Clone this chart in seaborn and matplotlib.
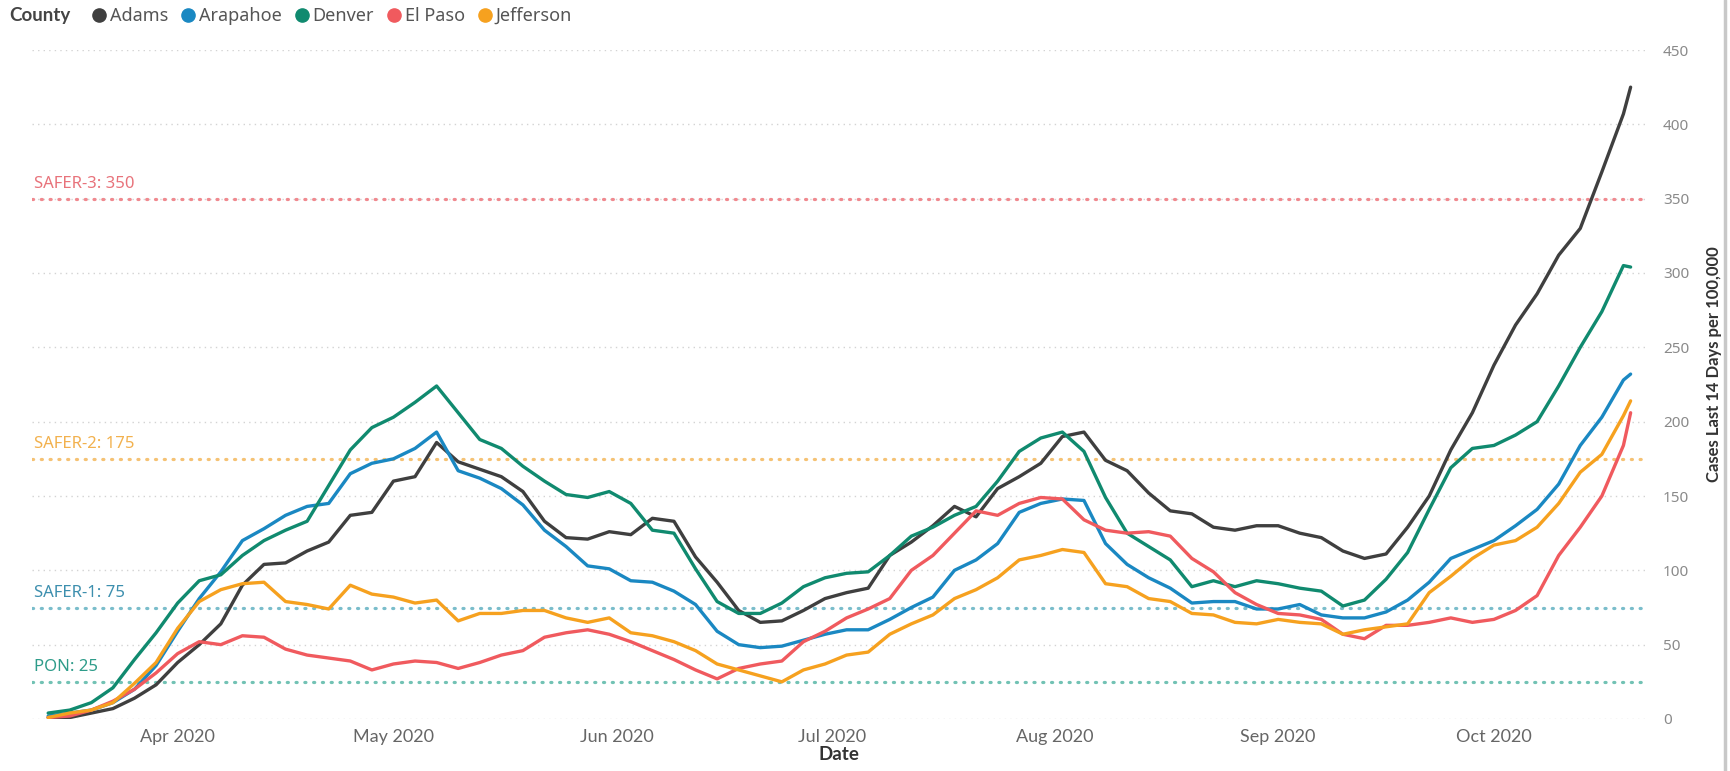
import pandas as pd
import matplotlib.pyplot as plt
from matplotlib.lines import Line2D
import seaborn as sns

# Datas: a cada 3 dias + último dia
dates = list(pd.date_range("2020-03-14", periods=74, freq="3D")) + [pd.Timestamp("2020-10-20")]

counties = ["Adams", "Arapahoe", "Denver", "El Paso", "Jefferson"]

adams = [1, 1, 4, 7, 14, 23, 38, 50, 64, 90, 104, 105, 113, 119, 137, 139, 160, 163, 186, 173,
         168, 163, 153, 133, 122, 121, 126, 124, 135, 133, 109, 92, 73, 65, 66, 73, 81, 85, 88, 110,
         119, 130, 143, 136, 155, 163, 172, 190, 193, 174, 167, 152, 140, 138, 129, 127, 130, 130, 125, 122,
         113, 108, 111, 129, 150, 181, 206, 238, 265, 286, 312, 330, 368, 407, 425]
arapahoe = [2, 4, 6, 11, 20, 36, 59, 81, 99, 120, 128, 137, 143, 145, 165, 172, 175, 182, 193, 167,
            162, 155, 144, 127, 116, 103, 101, 93, 92, 86, 77, 59, 50, 48, 49, 53, 57, 60, 60, 67,
            75, 82, 100, 107, 118, 139, 145, 148, 147, 118, 104, 95, 88, 78, 79, 79, 74, 74, 77, 70,
            68, 68, 72, 80, 92, 108, 114, 120, 130, 141, 158, 184, 203, 228, 232]
denver = [4, 6, 11, 21, 40, 58, 78, 93, 97, 110, 120, 127, 133, 157, 181, 196, 203, 213, 224, 206,
          188, 182, 170, 160, 151, 149, 153, 145, 127, 125, 101, 79, 71, 71, 78, 89, 95, 98, 99, 110,
          123, 129, 137, 143, 160, 180, 189, 193, 180, 149, 125, 116, 107, 89, 93, 89, 93, 91, 88, 86,
          76, 80, 94, 112, 141, 169, 182, 184, 191, 200, 224, 250, 274, 305, 304]
el_paso = [1, 2, 6, 12, 20, 31, 44, 52, 50, 56, 55, 47, 43, 41, 39, 33, 37, 39, 38, 34,
           38, 43, 46, 55, 58, 60, 57, 52, 46, 40, 33, 27, 34, 37, 39, 52, 59, 68, 74, 81,
           100, 110, 125, 140, 137, 145, 149, 148, 134, 127, 125, 126, 123, 108, 99, 85, 77, 71, 70, 67,
           57, 54, 63, 63, 65, 68, 65, 67, 73, 83, 110, 129, 150, 184, 206]
jefferson = [1, 4, 6, 11, 24, 38, 61, 79, 87, 91, 92, 79, 77, 74, 90, 84, 82, 78, 80, 66,
             71, 71, 73, 73, 68, 65, 68, 58, 56, 52, 46, 37, 33, 29, 25, 33, 37, 43, 45, 57,
             64, 70, 81, 87, 95, 107, 110, 114, 112, 91, 89, 81, 79, 71, 70, 65, 64, 67, 65, 64,
             57, 60, 62, 64, 85, 96, 108, 117, 120, 129, 145, 166, 178, 204, 214]

colors = {"Adams": "#3F3F3F", "Arapahoe": "#1A88C2", "Denver": "#108A6F",
          "El Paso": "#F05A5E", "Jefferson": "#F6A11F"}

thresholds = [350, 175, 75, 25]
threshold_labels = ["SAFER-3: 350", "SAFER-2: 175", "SAFER-1: 75", "PON: 25"]
threshold_line_colors = ["#F0898F", "#F5C274", "#7ABDCB", "#72C2B4"]
threshold_text_colors = ["#E8737B", "#F2B14E", "#3D8FAE", "#2E9C8A"]

month_ticks = pd.to_datetime(["2020-04-01", "2020-05-01", "2020-06-01", "2020-07-01",
                              "2020-08-01", "2020-09-01", "2020-10-01"])
month_labels = ["Apr 2020", "May 2020", "Jun 2020", "Jul 2020", "Aug 2020", "Sep 2020", "Oct 2020"]
y_ticks = [0, 50, 100, 150, 200, 250, 300, 350, 400, 450]

series = [adams, arapahoe, denver, el_paso, jefferson]
df = pd.concat([pd.DataFrame({"Date": dates, "County": c, "Cases": v})
                for c, v in zip(counties, series)], ignore_index=True)

sns.set_style("white")
plt.rcParams['font.family'] = ['Noto Sans', 'DejaVu Sans']
lato = ['Lato', 'DejaVu Sans']

W, H = 1731, 771
fig = plt.figure(figsize=(W / 100, H / 100), dpi=100)
ax = fig.add_axes([32 / W, (H - 719) / H, 1613 / W, 669 / H])

# grade pontilhada
for y in y_ticks:
    ax.axhline(y, color='#D3D3D3', lw=1.0, ls=(0, (1, 3)), zorder=0)

# linhas de referência
for v, lc, tc, lab in zip(thresholds, threshold_line_colors, threshold_text_colors, threshold_labels):
    ax.axhline(v, color=lc, lw=2.3, ls=(0, (0.35, 2.4)), dash_capstyle='round', zorder=1)
    ax.annotate(lab, xy=(0.001, v), xycoords=('axes fraction', 'data'), xytext=(0, 7.5),
                textcoords='offset points', va='baseline', ha='left', color=tc, fontsize=12)

sns.lineplot(data=df, x="Date", y="Cases", hue="County", palette=colors, linewidth=2.4,
             errorbar=None, legend=False, ax=ax, zorder=3)

ax.set_ylim(0, 450)
ax.set_xlim(pd.Timestamp("2020-03-11 18:00"), pd.Timestamp("2020-10-22"))
ax.yaxis.tick_right()
ax.set_yticks(y_ticks)
ax.tick_params(axis='y', length=0, pad=13, labelsize=11, labelcolor='#8A8A8A')
ax.set_xticks(month_ticks, labels=month_labels, fontfamily=lato, fontsize=13)
ax.tick_params(axis='x', length=0, pad=7, labelcolor='#666666')
for s in ax.spines.values():
    s.set_visible(False)

ax.set_xlabel("Date", fontsize=13.5, fontweight='bold', color='#333333', fontfamily=lato, labelpad=1)
ax.yaxis.set_label_position('right')
ax.set_ylabel("Cases Last 14 Days per 100,000", fontsize=12, fontweight='bold',
              color='#333333', fontfamily=lato, va='center', ha='center')
ax.yaxis.set_label_coords(1.0428, 0.53)

# legenda no topo
fig.text(9 / W, 1 - 16 / H, "County", fontsize=13.5, fontweight='bold', color='#444444',
         va='center', fontfamily=lato)
handles = [Line2D([], [], marker='o', ls='', color=colors[c], markersize=9.5) for c in counties]
fig.legend(handles, counties, loc='center left', bbox_to_anchor=(90 / W, 1 - 16 / H), ncol=5,
           frameon=False, handletextpad=0.1, columnspacing=0.6, handlelength=1.0,
           borderpad=0, borderaxespad=0, fontsize=13, labelcolor='#555555')

# borda direita
fig.add_artist(Line2D([1725 / W, 1725 / W], [0, 1], color='#C8C8C8', lw=2.5, transform=fig.transFigure))

fig.savefig("out.png", dpi=100)
